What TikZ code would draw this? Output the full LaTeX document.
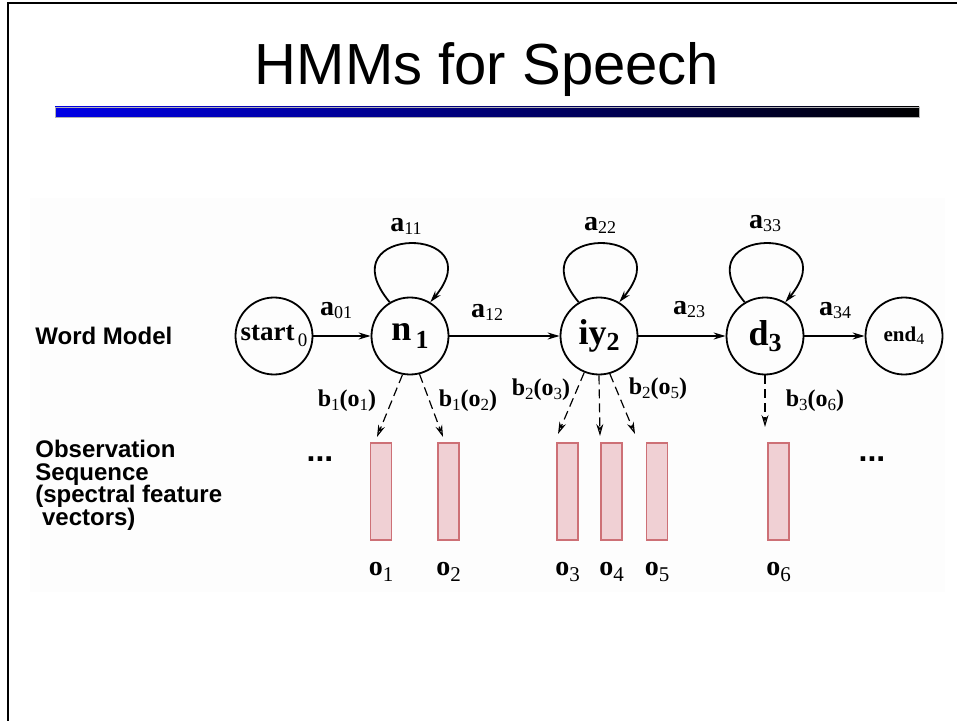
\documentclass[tikz,border=0pt]{standalone}
\usepackage{fontspec}
\setmainfont{Liberation Serif}
\newfontfamily\arial{Liberation Sans}
\usetikzlibrary{arrows.meta}
\definecolor{obsfill}{RGB}{240,208,212}
\definecolor{obsdraw}{RGB}{205,112,118}
\definecolor{barblue}{RGB}{0,0,230}
\newcommand\lab[5]{{\fontsize{#1}{#1}\selectfont #3}\raisebox{#4}{\mdseries\fontsize{#2}{#2}\selectfont #5}}
\newcommand\labb[5]{{\fontsize{#1}{#1}\selectfont #3}\raisebox{#4}{\fontsize{#2}{#2}\selectfont #5}}
\newcommand\blab[2]{{\fontsize{12pt}{12pt}\selectfont b\raisebox{-2pt}{\mdseries\fontsize{8.5pt}{8.5pt}\selectfont #1}(o\raisebox{-2pt}{\mdseries\fontsize{8.5pt}{8.5pt}\selectfont #2})}}
\begin{document}
\begin{tikzpicture}[x=0.5pt,y=-0.5pt,
 state/.style={circle,draw,line width=0.9pt,minimum size=38.5pt,inner sep=0pt,font=\bfseries},
 trans/.style={line width=0.9pt,-{Stealth[length=6pt,width=3.5pt]}},
 emit/.style={line width=0.6pt,dash pattern=on 4.5pt off 2.5pt,-{Stealth[open,length=6pt,width=3.5pt]}},
 obs/.style={draw=obsdraw,fill=obsfill,line width=0.6pt,minimum width=10.5pt,minimum height=48.5pt,inner sep=0pt},
 lbl/.style={font=\bfseries,inner sep=0pt},
 dots/.style={font=\arial\bfseries\fontsize{16pt}{16pt}\selectfont,inner sep=0pt},
 side/.style={font=\arial\bfseries\fontsize{12pt}{11.25pt}\selectfont,inner sep=0pt,align=left}
]
\useasboundingbox (0,0) rectangle (957,721);
% background of diagram
\fill[gray!1.5] (30,198) rectangle (945,592);
% frame
\draw[line width=1.2pt] (8,721) -- (8,3) -- (957,3);
% title and bar
\node[font=\arial\fontsize{29pt}{29pt}\selectfont,anchor=base,inner sep=0pt] (title) at (487,85) {HMMs for Speech};
\shade[left color=barblue,right color=black] (55,107) rectangle (919,117);
\draw[gray!60,line width=0.4pt] (55,107) rectangle (919,117);
% side labels
\node[side,anchor=west] (wm) at (35,336) {Word Model};
\node[side,anchor=north west] (os) at (35,440) {Observation\\Sequence\\(spectral feature\\\hspace*{0.28em}vectors)};
% states
\node[state] (s0) at (274,336) {\lab{13.5pt}{9.5pt}{start}{-3pt}{\,0}};
\node[state] (n1) at (410,336) {\labb{18pt}{13pt}{n}{-4pt}{\,1}};
\node[state] (iy2) at (599,336) {\labb{18pt}{13pt}{iy}{-3pt}{2}};
\node[state] (d3) at (765,336) {\labb{18pt}{13pt}{d}{-3pt}{3}};
\node[state] (e4) at (904,336) {\lab{10.5pt}{8pt}{end}{-1.5pt}{4}};
% transitions
\draw[trans] (s0) -- (n1);
\draw[trans] (n1) -- (iy2);
\draw[trans] (iy2) -- (d3);
\draw[trans] (d3) -- (e4);
\draw[trans] (n1.121) .. controls +(-65,-78) and +(65,-78) .. (n1.59);
\draw[trans] (iy2.121) .. controls +(-65,-78) and +(65,-78) .. (iy2.59);
\draw[trans] (d3.121) .. controls +(-65,-78) and +(65,-78) .. (d3.59);
% transition labels
\node[lbl] (la01) at (336,311) {\lab{14pt}{9pt}{a}{-1.5pt}{01}};
\node[lbl] (la12) at (487,312) {\lab{14pt}{9pt}{a}{-1.5pt}{12}};
\node[lbl] (la23) at (689,310) {\lab{14pt}{9pt}{a}{-1.5pt}{23}};
\node[lbl] (la34) at (835,311) {\lab{14pt}{9pt}{a}{-1.5pt}{34}};
\node[lbl] (la11) at (406,226) {\lab{14pt}{9pt}{a}{-1.5pt}{11}};
\node[lbl] (la22) at (600,225) {\lab{14pt}{9pt}{a}{-1.5pt}{22}};
\node[lbl] (la33) at (765,224) {\lab{14pt}{9pt}{a}{-1.5pt}{33}};
% observation vectors
\node[obs] (r1) at (381,491.5) {};
\node[obs] (r2) at (448.5,491.5) {};
\node[obs] (r3) at (567.5,491.5) {};
\node[obs] (r4) at (611.5,491.5) {};
\node[obs] (r5) at (657,491.5) {};
\node[obs] (r6) at (778.5,491.5) {};
\node[lbl] (o1) at (381,572) {\lab{14pt}{10.5pt}{o}{-3pt}{1}};
\node[lbl] (o2) at (448.5,572) {\lab{14pt}{10.5pt}{o}{-3pt}{2}};
\node[lbl] (o3) at (567.5,572) {\lab{14pt}{10.5pt}{o}{-3pt}{3}};
\node[lbl] (o4) at (611.5,572) {\lab{14pt}{10.5pt}{o}{-3pt}{4}};
\node[lbl] (o5) at (657,572) {\lab{14pt}{10.5pt}{o}{-3pt}{5}};
\node[lbl] (o6) at (778.5,572) {\lab{14pt}{10.5pt}{o}{-3pt}{6}};
\node[dots] (dl) at (320,459) {...};
\node[dots] (dr) at (872,459) {...};
% emissions
\coordinate (t1) at (377,437);
\coordinate (t2) at (443,437);
\coordinate (t3) at (558,434);
\coordinate (t4) at (600,436);
\coordinate (t5) at (635,434);
\coordinate (t6) at (765,427);
\draw[emit] (n1.259) -- (t1);
\draw[emit] (n1.284) -- (t2);
\draw[emit] (iy2.248) -- (t3);
\draw[emit] (iy2.270) -- (t4);
\draw[emit] (iy2.286) -- (t5);
\draw[emit] (d3.270) -- (t6);
\node[lbl] (b11) at (347,401) {\blab{1}{1}};
\node[lbl] (b12) at (468,401) {\blab{1}{2}};
\node[lbl] (b23) at (541,390) {\blab{2}{3}};
\node[lbl] (b25) at (658,389) {\blab{2}{5}};
\node[lbl] (b36) at (815,401) {\blab{3}{6}};
\end{tikzpicture}
\end{document}
